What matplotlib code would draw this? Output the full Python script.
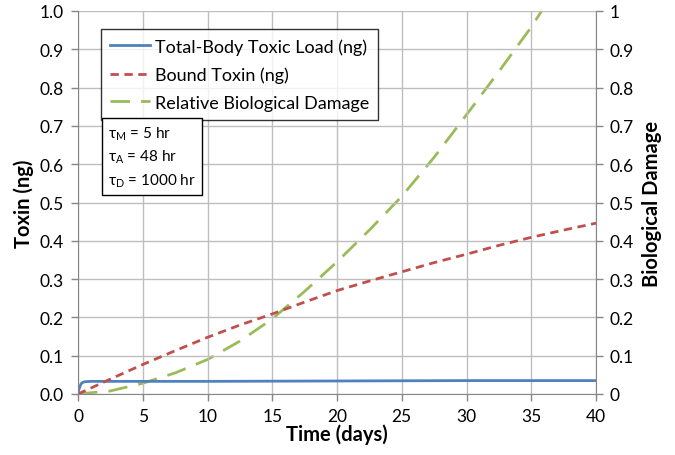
import numpy as np
import matplotlib.pyplot as plt

plt.rcParams['font.family'] = ['Lato', 'DejaVu Sans']

# Total-body toxic load (ng)
t_total = [0, 0.05, 0.1, 0.2, 0.3, 0.5, 1, 5, 10, 20, 30, 40]
total_load = [0, 0.009, 0.015, 0.024, 0.029, 0.032, 0.033, 0.033, 0.033, 0.034, 0.035, 0.035]

# Bound toxin (ng)
t_bound = [0, 2.5, 5, 7.5, 10, 12.5, 15, 17.5, 20, 22.5, 25, 27.5, 30, 32.5, 35, 37.5, 40]
bound = [0, 0.039, 0.077, 0.113, 0.148, 0.18, 0.209, 0.24, 0.27, 0.295, 0.319,
         0.343, 0.365, 0.388, 0.409, 0.428, 0.446]

# Relative biological damage (right axis)
t_damage = [0, 2.5, 5, 7.5, 10, 12.5, 15, 17.5, 20, 22.5, 25, 27.5, 30, 32.5, 35, 35.8]
damage = [0, 0.008, 0.028, 0.055, 0.09, 0.138, 0.196, 0.268, 0.345, 0.428, 0.516,
          0.618, 0.729, 0.842, 0.958, 1.0]

params = ['τ$_\\mathregular{M}$ = 5 hr', 'τ$_\\mathregular{A}$ = 48 hr', 'τ$_\\mathregular{D}$ = 1000 hr']

fig = plt.figure(figsize=(6.75, 4.56), dpi=100)
ax = fig.add_axes([78 / 675, 1 - 395 / 456, 518 / 675, 383 / 456])
ax2 = ax.twinx()

l1, = ax.plot(t_total, total_load, color='#4F81BD', lw=2, label='Total-Body Toxic Load (ng)')
l2, = ax.plot(t_bound, bound, color='#C0504D', lw=2, dashes=(3, 2), label='Bound Toxin (ng)')
l3, = ax2.plot(t_damage, damage, color='#9BBB59', lw=2, dashes=(7, 4), label='Relative Biological Damage')

ax.set_xlim(0, 40)
ax.set_ylim(0, 1)
ax2.set_ylim(0, 1)
ax.set_xticks(np.arange(0, 41, 5))
ax.set_yticks(np.arange(0, 1.01, 0.1))
ax.set_yticklabels(['%.1f' % v for v in np.arange(0, 1.01, 0.1)])
ax2.set_yticks(np.arange(0, 1.01, 0.1))
ax2.set_yticklabels(['0'] + ['%.1f' % v for v in np.arange(0.1, 0.95, 0.1)] + ['1'])

ax.grid(True, color='#BEBEBE', lw=1)
ax.set_axisbelow(True)
for a in (ax, ax2):
    for s in ('top', 'right', 'left', 'bottom'):
        a.spines[s].set_visible(False)
    a.tick_params(length=5, color='#868686', labelsize=12.5, width=1, pad=5)
ax.spines['left'].set_visible(True)
ax.spines['bottom'].set_visible(True)
ax.spines['left'].set_color('#868686')
ax.spines['bottom'].set_color('#868686')
ax2.spines['right'].set_visible(True)
ax2.spines['right'].set_color('#868686')

ax.set_xlabel('Time (days)', fontsize=14.5, fontweight='bold', labelpad=0)
ax.set_ylabel('Toxin (ng)', fontsize=14.5, fontweight='bold', labelpad=4)
ax2.set_ylabel('Biological Damage', fontsize=14.5, fontweight='bold', labelpad=6)

leg = ax.legend(handles=[l1, l2, l3], loc='upper left', bbox_to_anchor=(23 / 518, 1 - 18 / 383),
                fontsize=13, frameon=True, fancybox=False, handlelength=2.2,
                handletextpad=0.3, borderpad=0.5, labelspacing=0.65, borderaxespad=0)
leg.get_frame().set_edgecolor('black')
leg.get_frame().set_linewidth(1)
leg.set_zorder(5)
ax.set_zorder(ax2.get_zorder() + 1)
ax.patch.set_visible(False)

ax.text(30 / 518, 1 - 113 / 383, '\n'.join(params), transform=ax.transAxes,
        fontsize=11, va='top', ha='left', linespacing=1.45,
        bbox=dict(boxstyle='square,pad=0.4', fc='white', ec='black', lw=1), zorder=6)

fig.savefig('out.png', dpi=100)
